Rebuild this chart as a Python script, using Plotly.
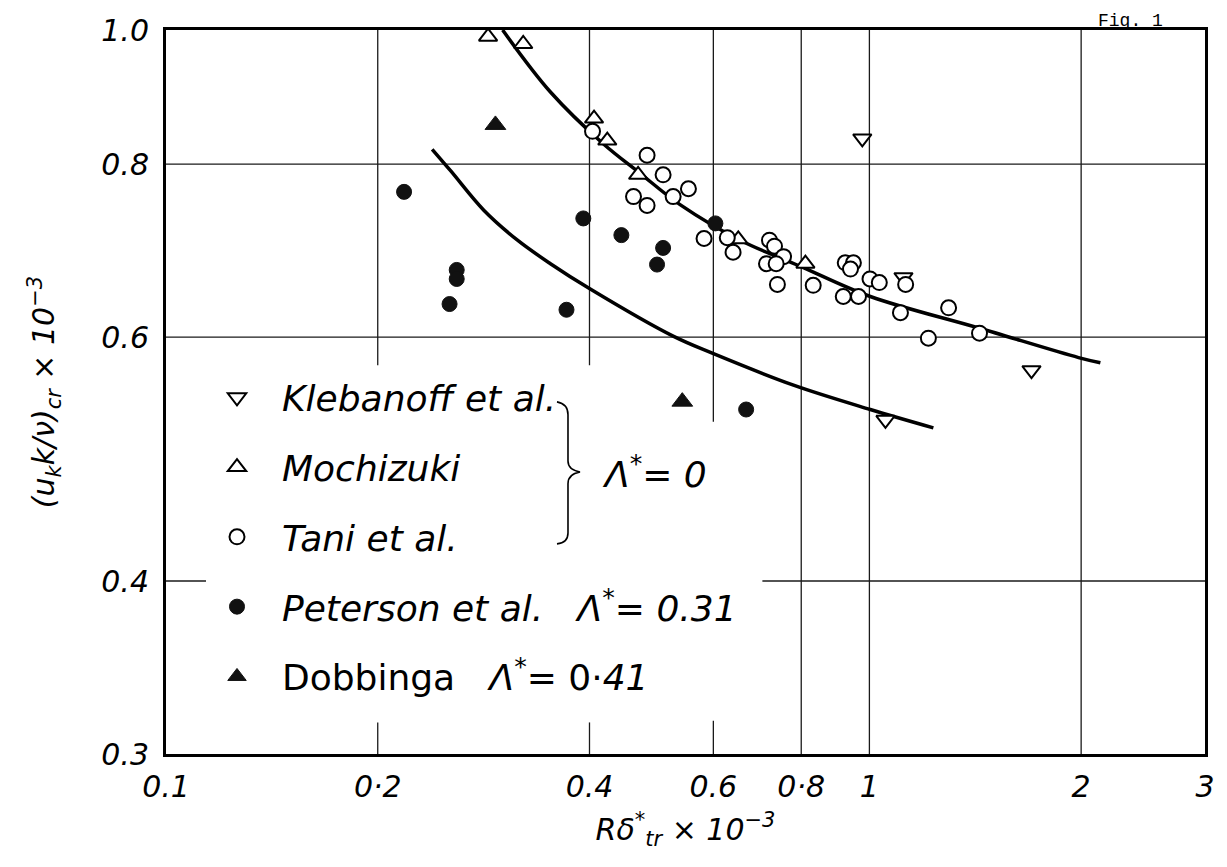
import math
import plotly.graph_objects as go

# ---------------- data ----------------
kleb_x = [0.977, 1.118, 1.70, 1.054]
kleb_y = [0.835, 0.663, 0.568, 0.523]

moch_x = [0.287, 0.322, 0.406, 0.424, 0.469, 0.651, 0.811]
moch_y = [0.989, 0.977, 0.863, 0.832, 0.786, 0.706, 0.678]

tani_x = [0.404, 0.483, 0.509, 0.462, 0.483, 0.526, 0.553, 0.582, 0.628, 0.640,
          0.721, 0.733, 0.755, 0.714, 0.737, 0.740, 0.832, 0.924, 0.949, 0.940,
          1.002, 1.033, 1.126, 0.918, 0.965, 1.107, 1.296, 1.213, 1.434]
tani_y = [0.845, 0.812, 0.786, 0.758, 0.747, 0.758, 0.768, 0.707, 0.708, 0.691,
          0.705, 0.698, 0.686, 0.678, 0.678, 0.655, 0.654, 0.679, 0.679, 0.672,
          0.661, 0.657, 0.655, 0.642, 0.642, 0.625, 0.630, 0.599, 0.604]

pet_x = [0.218, 0.259, 0.259, 0.253, 0.392, 0.444, 0.509, 0.499, 0.371, 0.604, 0.668]
pet_y = [0.764, 0.671, 0.661, 0.634, 0.731, 0.711, 0.696, 0.677, 0.628, 0.725, 0.532]

dob_x = [0.294, 0.542]
dob_y = [0.854, 0.539]

# theoretical curves
curve_a_x = [0.301, 0.352, 0.418, 0.472, 0.538, 0.655, 0.798, 1.003, 1.434, 1.983, 2.13]
curve_a_y = [1.000, 0.902, 0.828, 0.788, 0.748, 0.705, 0.675, 0.642, 0.609, 0.580, 0.575]
curve_b_x = [0.239, 0.254, 0.283, 0.316, 0.352, 0.401, 0.526, 0.599, 0.780, 1.003, 1.233]
curve_b_y = [0.820, 0.791, 0.741, 0.705, 0.678, 0.650, 0.601, 0.584, 0.554, 0.532, 0.516]

x_tickvals = [0.1, 0.2, 0.4, 0.6, 0.8, 1, 2, 3]
x_ticktext = ["0.1", "0·2", "0.4", "0.6", "0·8", "1", "2", "3"]
y_tickvals = [0.3, 0.4, 0.6, 0.8, 1.0]
y_ticktext = ["0.3", "0.4", "0.6", "0.8", "1.0"]

x_grid = [0.2, 0.4, 0.6, 0.8, 1, 2]
y_grid = [0.4, 0.6, 0.8]
# gaps in the grid (paper fractions) where the key is lettered
x_grid_gaps = {0.2: (0.0436, 0.537), 0.4: (0.0436, 0.537), 0.6: (0.046, 0.459)}
y_grid_gaps = {0.4: (0.0385, 0.574)}

# ---------------- figure ----------------
FONT = "DejaVu Sans"
L, R, T, B = 166, 22, 20, 113
W, H = 1227, 867
PW, PH = W - L - R, H - T - B
SP = "\u00a0"


def paper(px, py):
    return (px - L) / PW, (H - B - py) / PH


fig = go.Figure()

line_style = dict(color="black", width=3.5, shape="spline", smoothing=1.0)
fig.add_trace(go.Scatter(x=curve_a_x, y=curve_a_y, mode="lines", line=line_style,
                         showlegend=False, hoverinfo="skip"))
fig.add_trace(go.Scatter(x=curve_b_x, y=curve_b_y, mode="lines", line=line_style,
                         showlegend=False, hoverinfo="skip"))

open_m = dict(color="white", size=15, line=dict(color="black", width=2))
fig.add_trace(go.Scatter(x=kleb_x, y=kleb_y, mode="markers", name="<i>Klebanoff et al.</i>",
                         legendgroup="a",
                         marker=dict(symbol="triangle-down", size=16, color="white",
                                     line=dict(color="black", width=2))))
fig.add_trace(go.Scatter(x=moch_x, y=moch_y, mode="markers", name="<i>Mochizuki</i>",
                         legendgroup="b",
                         marker=dict(symbol="triangle-up", size=16, color="white",
                                     line=dict(color="black", width=2))))
fig.add_trace(go.Scatter(x=tani_x, y=tani_y, mode="markers", name="<i>Tani et al.</i>",
                         legendgroup="c",
                         marker=dict(symbol="circle", **open_m)))
fig.add_trace(go.Scatter(x=pet_x, y=pet_y, mode="markers",
                         name=f"<i>Peterson et al.</i>{SP*3}<i>Λ</i><sup>*</sup>= <i>0.31</i>",
                         legendgroup="d",
                         marker=dict(symbol="circle", size=15, color="#111",
                                     line=dict(color="#111", width=1))))
fig.add_trace(go.Scatter(x=dob_x, y=dob_y, mode="markers",
                         name=f"Dobbinga{SP*3}<i>Λ</i><sup>*</sup>= 0·<i>41</i>",
                         legendgroup="e",
                         marker=dict(symbol="triangle-up", size=18, color="#111",
                                     line=dict(color="#111", width=1))))
for tr in fig.data:
    tr.cliponaxis = False

shapes = []
gl = dict(color="#1a1a1a", width=1.3)
for xv in x_grid:
    if xv in x_grid_gaps:
        g0, g1 = x_grid_gaps[xv]
        spans = [(0, g0), (g1, 1)]
    else:
        spans = [(0, 1)]
    for a, b in spans:
        shapes.append(dict(type="line", xref="x", yref="paper", x0=xv, x1=xv,
                           y0=a, y1=b, line=gl, layer="below"))
for yv in y_grid:
    if yv in y_grid_gaps:
        g0, g1 = y_grid_gaps[yv]
        spans = [(0, g0), (g1, 1)]
    else:
        spans = [(0, 1)]
    for a, b in spans:
        shapes.append(dict(type="line", xref="paper", yref="y", x0=a, x1=b,
                           y0=yv, y1=yv, line=gl, layer="below"))

# brace grouping the Λ* = 0 sets
pts = [paper(*p) for p in [(557, 397), (568, 399), (568, 410), (568, 457), (568, 466),
                           (580, 468), (568, 470), (568, 480), (568, 530), (568, 540),
                           (557, 541)]]
f = lambda p: f"{p[0]:.4f},{p[1]:.4f}"
brace = (f"M{f(pts[0])} Q{f(pts[1])} {f(pts[2])} L{f(pts[3])} Q{f(pts[4])} {f(pts[5])} "
         f"Q{f(pts[6])} {f(pts[7])} L{f(pts[8])} Q{f(pts[9])} {f(pts[10])}")
shapes.append(dict(type="path", xref="paper", yref="paper", path=brace,
                   line=dict(color="black", width=1.6)))

ax, ay = paper(600, 468)
fx, fy = paper(1130, 11)
annotations = [
    dict(xref="paper", yref="paper", x=ax, y=ay, xanchor="left", yanchor="middle",
         text="<i>Λ</i><sup>*</sup>= <i>0</i>", showarrow=False,
         font=dict(family=FONT, size=36, color="black")),
    dict(xref="paper", yref="paper", x=fx, y=fy, xanchor="center", yanchor="middle",
         text="Fig. 1", showarrow=False,
         font=dict(family="Liberation Mono", size=18, color="black")),
]

lx, ly = paper(192, 362)
fig.update_layout(
    width=W, height=H, autosize=False,
    margin=dict(l=L, r=R, t=T, b=B),
    paper_bgcolor="white", plot_bgcolor="white",
    shapes=shapes, annotations=annotations,
    font=dict(family=FONT, color="black"),
    legend=dict(x=lx, y=ly, xanchor="left", yanchor="top", bgcolor="rgba(0,0,0,0)",
                font=dict(family=FONT, size=36, color="black"),
                traceorder="grouped", tracegroupgap=20, itemsizing="trace",
                itemwidth=80),
    xaxis=dict(type="log", range=[math.log10(0.1), math.log10(3)],
               tickvals=x_tickvals, ticktext=x_ticktext, ticks="",
               tickfont=dict(family=FONT, size=30, style="italic", color="black"),
               ticklabelstandoff=4,
               showgrid=False, zeroline=False, showline=True, linewidth=3,
               linecolor="black", mirror=True,
               title=dict(text="Rδ<sup>*</sup><sub>tr</sub> × 10<sup>−3</sup>",
                          font=dict(family=FONT, size=30, style="italic", color="black"),
                          standoff=16)),
    yaxis=dict(type="log", range=[math.log10(0.3), 0],
               tickvals=y_tickvals, ticktext=y_ticktext, ticks="",
               tickfont=dict(family=FONT, size=30, style="italic", color="black"),
               ticklabelstandoff=8,
               showgrid=False, zeroline=False, showline=True, linewidth=3,
               linecolor="black", mirror=True,
               title=dict(text="(u<sub>k</sub>k/ν)<sub>cr</sub> × 10<sup>−3</sup>",
                          font=dict(family=FONT, size=30, style="italic", color="black"),
                          standoff=38)),
)

fig.write_html("out.html")
